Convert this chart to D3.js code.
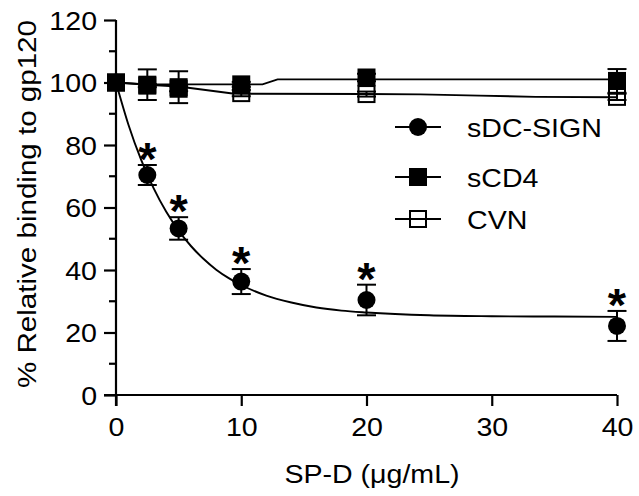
<!DOCTYPE html>
<html>
<head>
<meta charset="utf-8">
<script src="https://cdn.jsdelivr.net/npm/d3@7"></script>
<style>
  html, body { margin: 0; padding: 0; background: #fff; }
  svg text { font-family: "Liberation Sans", Arial, Helvetica, sans-serif; fill: #000; }
</style>
</head>
<body>
<svg id="chart" width="639" height="496"></svg>
<script>
// ---- data ----
const xTicks = [0, 10, 20, 30, 40];
const yTicks = [0, 20, 40, 60, 80, 100, 120];
const yMinorTicks = [10, 30, 50, 70, 90, 110];
const conc = [0, 2.5, 5, 10, 20, 40];

const dcsignMean = [100, 70.4, 53.3, 36.3, 30.4, 22.1];
const dcsignErr  = [0, 3.2, 3.6, 4.0, 4.9, 4.8];
const scd4Mean   = [100, 99.3, 98.5, 99.4, 101.6, 100.5];
const scd4Err    = [0, 4.9, 5.1, 0.8, 1.2, 3.8];
const cvnMean    = [100, 99.0, 98.0, 96.6, 96.3, 95.4];
const cvnErr     = [0, 0.5, 0.8, 1.0, 0.8, 1.0];

const significant = [false, true, true, true, true, true];

const dcsignFitX = [0, 1, 2, 3, 4, 5, 6, 7, 8, 9, 10, 12, 14, 16, 18, 20, 25, 30, 35, 40];
const dcsignFitY = [100, 86.4, 75.3, 66.2, 58.7, 52.6, 47.6, 43.5, 40.1, 37.4, 35.2, 31.8, 29.6, 28.0, 27.0, 26.4, 25.5, 25.2, 25.1, 25.0];
const scd4FitX = [0, 2.5, 5, 10, 11.7, 12.9, 20, 40];
const scd4FitY = [100, 99.4, 99.4, 99.4, 99.4, 101.0, 101.0, 101.0];
const cvnFitX = [0, 2.5, 5, 9.3, 10, 20, 24.3, 29, 33.5, 40];
const cvnFitY = [100, 99.3, 98.7, 96.5, 96.4, 96.3, 96.2, 95.8, 95.4, 95.3];

const legendLabels = ["sDC-SIGN", "sCD4", "CVN"];
const xTitle = "SP-D (\u03BCg/mL)";
const yTitle = "% Relative binding to gp120";

// ---- layout ----
const svg = d3.select("#chart");
const x = d3.scaleLinear().domain([0, 40]).range([116, 617]);
const y = d3.scaleLinear().domain([0, 120]).range([395, 20]);
const FS = 25.5;
const STRETCH = 1.12;

// axes
const yAxis = d3.axisLeft(y).tickValues(yTicks).tickSize(12).tickFormat(d3.format("d"));
const yg = svg.append("g").attr("transform", `translate(${x(0)},0)`).call(yAxis);
yg.select(".domain").attr("d", `M0,${y(0) + 11}V${y(120)}`).attr("stroke-width", 2.2);
yg.selectAll(".tick line").attr("stroke-width", 2.2);
yg.selectAll(".tick text").attr("font-size", FS).attr("x", -19).attr("dy", "0.36em");
svg.append("g").selectAll("line").data(yMinorTicks).join("line")
  .attr("x1", x(0) - 7).attr("x2", x(0)).attr("y1", d => y(d)).attr("y2", d => y(d))
  .attr("stroke", "#000").attr("stroke-width", 2.2);

const xAxis = d3.axisBottom(x).tickValues(xTicks).tickSize(11).tickFormat(d3.format("d"));
const xg = svg.append("g").attr("transform", `translate(0,${y(0)})`).call(xAxis);
xg.select(".domain").attr("d", `M${x(0) - 12},0H${x(40)}`).attr("stroke-width", 2.2);
xg.selectAll(".tick line").attr("stroke-width", 2.2);
xg.selectAll(".tick text").attr("font-size", FS).attr("y", 23).attr("dy", "0.71em");

// titles
svg.append("text").attr("class", "stretch").attr("x", 372).attr("y", 483)
  .attr("text-anchor", "middle").attr("font-size", FS).text(xTitle);
svg.append("text").attr("class", "stretchY")
  .attr("transform", `translate(36,204) rotate(-90)`)
  .attr("text-anchor", "middle").attr("font-size", 26.5).text(yTitle);

// curves
const line = d3.line().x(d => x(d[0])).y(d => y(d[1]));
const fits = [
  { xs: dcsignFitX, ys: dcsignFitY, curve: d3.curveMonotoneX },
  { xs: cvnFitX, ys: cvnFitY, curve: d3.curveLinear },
  { xs: scd4FitX, ys: scd4FitY, curve: d3.curveLinear }
];
fits.forEach(f => {
  svg.append("path")
    .attr("d", line.curve(f.curve)(f.xs.map((v, i) => [v, f.ys[i]])))
    .attr("fill", "none").attr("stroke", "#000").attr("stroke-width", 1.9);
});

// error bars
const CAP = 9.5;
function errorBars(means, errs) {
  const g = svg.append("g").attr("stroke", "#000").attr("stroke-width", 2);
  conc.forEach((c, i) => {
    if (errs[i] <= 0) return;
    const cx = x(c), top = y(means[i] + errs[i]), bot = y(means[i] - errs[i]);
    g.append("line").attr("x1", cx).attr("x2", cx).attr("y1", top).attr("y2", bot);
    g.append("line").attr("x1", cx - CAP).attr("x2", cx + CAP).attr("y1", top).attr("y2", top);
    g.append("line").attr("x1", cx - CAP).attr("x2", cx + CAP).attr("y1", bot).attr("y2", bot);
  });
}
errorBars(dcsignMean, dcsignErr);
errorBars(cvnMean, cvnErr);
errorBars(scd4Mean, scd4Err);

// markers
const R = 9, S = 18;
function circleMarker(g, cx, cy) {
  g.append("circle").attr("cx", cx).attr("cy", cy).attr("r", R).attr("fill", "#000");
}
function filledSquare(g, cx, cy) {
  g.append("rect").attr("x", cx - S / 2).attr("y", cy - S / 2).attr("width", S).attr("height", S).attr("fill", "#000");
}
function openSquare(g, cx, cy) {
  g.append("rect").attr("x", cx - S / 2 + 1).attr("y", cy - S / 2 + 1).attr("width", S - 2).attr("height", S - 2)
    .attr("fill", "none").attr("stroke", "#000").attr("stroke-width", 2);
}
const mg = svg.append("g");
conc.forEach((c, i) => circleMarker(mg, x(c), y(dcsignMean[i])));
conc.forEach((c, i) => openSquare(mg, x(c), y(cvnMean[i])));
conc.forEach((c, i) => filledSquare(mg, x(c), y(scd4Mean[i])));

// significance asterisks
conc.forEach((c, i) => {
  if (!significant[i]) return;
  const top = y(dcsignMean[i] + dcsignErr[i]);
  svg.append("text").attr("x", x(c)).attr("y", top + 10)
    .attr("text-anchor", "middle").attr("font-size", 47).attr("font-weight", "bold").text("*");
});

// legend
const legY = [127, 177, 219];
const lg = svg.append("g");
legendLabels.forEach((lab, i) => {
  lg.append("line").attr("x1", 395).attr("x2", 441).attr("y1", legY[i]).attr("y2", legY[i])
    .attr("stroke", "#000").attr("stroke-width", 2);
  if (i === 0) circleMarker(lg, 418, legY[i]);
  if (i === 1) filledSquare(lg, 418, legY[i]);
  if (i === 2) openSquare(lg, 418, legY[i]);
  lg.append("text").attr("class", "stretch").attr("x", 467).attr("y", legY[i] + 9.5)
    .attr("font-size", FS).text(lab);
});

// widen glyphs to match the reference's wider typeface
svg.selectAll(".tick text, text.stretch").each(function () {
  const w = this.getComputedTextLength();
  d3.select(this).attr("textLength", w * STRETCH).attr("lengthAdjust", "spacingAndGlyphs");
});
svg.selectAll("text.stretchY").each(function () {
  d3.select(this).attr("textLength", 368).attr("lengthAdjust", "spacingAndGlyphs");
});
</script>
</body>
</html>
